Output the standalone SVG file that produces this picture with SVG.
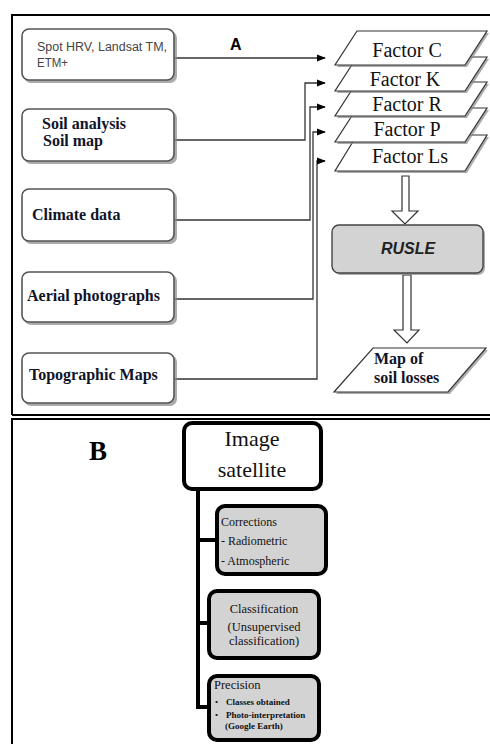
<svg xmlns="http://www.w3.org/2000/svg" width="490" height="744" viewBox="0 0 490 744">
<defs>
<style>
.frame{fill:none;stroke:#000;stroke-width:2}
.inbox{fill:#fff;stroke:#555;stroke-width:1.6}
.shadow{fill:#888;opacity:0.7}
.bt{font-family:"Liberation Serif",serif;font-weight:bold;font-size:16px;fill:#10142a}
.ft{font-family:"Liberation Serif",serif;font-size:20px;fill:#111}
.para{fill:#fff;stroke:#333;stroke-width:1.2}
.conn{fill:none;stroke:#333;stroke-width:1.3}
.hollow{fill:#fff;stroke:#333;stroke-width:1.2}
.bbox{stroke:#000;stroke-width:4}
.bconn{fill:none;stroke:#000;stroke-width:4}
.st{font-family:"Liberation Serif",serif;fill:#111}
</style>
<marker id="ah" viewBox="0 0 10 10" refX="9" refY="5" markerWidth="9" markerHeight="9" markerUnits="userSpaceOnUse" orient="auto"><path d="M0,1 L10,5 L0,9 Z" fill="#000"/></marker>
</defs>

<!-- frames -->
<g id="frames">
<path class="frame" d="M12,415 L12,15 L490,15"/>
<line class="frame" x1="12" y1="415" x2="490" y2="415"/>
<path class="frame" d="M12,744 L12,419 L490,419"/>
</g>

<text x="230" y="50" font-family="Liberation Sans,sans-serif" font-weight="bold" font-size="16" fill="#000">A</text>
<text x="98" y="460" text-anchor="middle" font-family="Liberation Serif,serif" font-weight="bold" font-size="27" fill="#000">B</text>

<!-- connectors -->
<g id="connectors">
<line class="conn" x1="175" y1="58" x2="325" y2="58" marker-end="url(#ah)"/>
<path class="conn" d="M175,140 L305,140 L305,83 L325,83" marker-end="url(#ah)"/>
<path class="conn" d="M175,220 L310,220 L310,107 L325,107" marker-end="url(#ah)"/>
<path class="conn" d="M175,299 L313,299 L313,132 L325,132" marker-end="url(#ah)"/>
<path class="conn" d="M175,379 L317,379 L317,161 L325,161" marker-end="url(#ah)"/>
<polygon class="hollow" points="402,176 409,176 409,211 418,211 405,224 392,211 402,211"/>
<polygon class="hollow" points="403,275 411,275 411,330 419,330 407,343 394,330 403,330"/>
<path class="bconn" d="M198,490 L198,707 L210,707"/>
<line class="bconn" x1="198" y1="540" x2="218" y2="540"/>
<line class="bconn" x1="198" y1="623" x2="210" y2="623"/>
</g>

<!-- input boxes -->
<g id="n-spot">
<rect class="shadow" x="24" y="31" width="153" height="52" rx="7"/>
<rect class="inbox" x="22" y="29" width="152" height="51" rx="7"/>
<text x="37" y="51" font-family="Liberation Sans,sans-serif" font-size="12.5" fill="#444" textLength="130" lengthAdjust="spacingAndGlyphs">Spot HRV, Landsat TM,</text>
<text x="37" y="67" font-family="Liberation Sans,sans-serif" font-size="12.5" fill="#444" textLength="31" lengthAdjust="spacingAndGlyphs">ETM+</text>
</g>
<g id="n-soil">
<rect class="shadow" x="24" y="111" width="153" height="53" rx="7"/>
<rect class="inbox" x="22" y="109" width="152" height="52" rx="7"/>
<text class="bt" x="42" y="129" font-size="15.5">Soil analysis</text>
<text class="bt" x="43" y="146" font-size="15.5">Soil map</text>
</g>
<g id="n-climate">
<rect class="shadow" x="24" y="191" width="153" height="53" rx="7"/>
<rect class="inbox" x="22" y="189" width="152" height="52" rx="7"/>
<text class="bt" x="32" y="220">Climate data</text>
</g>
<g id="n-aerial">
<rect class="shadow" x="24" y="274" width="153" height="51" rx="7"/>
<rect class="inbox" x="22" y="272" width="152" height="50" rx="7"/>
<text class="bt" x="27" y="301">Aerial photographs</text>
</g>
<g id="n-topo">
<rect class="shadow" x="24" y="355" width="153" height="51" rx="7"/>
<rect class="inbox" x="22" y="353" width="152" height="50" rx="7"/>
<text class="bt" x="29" y="380">Topographic Maps</text>
</g>

<!-- factors (drawn bottom to top) -->
<g id="n-factor-ls">
<polygon class="shadow" points="359,137 489,137 467,173 337,173"/>
<polygon class="para" points="357,135 487,135 465,171 335,171"/>
<text class="ft" x="410" y="163" text-anchor="middle">Factor Ls</text>
</g>
<g id="n-factor-p">
<polygon class="shadow" points="359,110 489,110 467,144 337,144"/>
<polygon class="para" points="357,108 487,108 465,142 335,142"/>
<text class="ft" x="407" y="136" text-anchor="middle">Factor P</text>
</g>
<g id="n-factor-r">
<polygon class="shadow" points="359,84 489,84 467,118 337,118"/>
<polygon class="para" points="357,82 487,82 465,116 335,116"/>
<text class="ft" x="407" y="111" text-anchor="middle">Factor R</text>
</g>
<g id="n-factor-k">
<polygon class="shadow" points="359,59 489,59 467,93 337,93"/>
<polygon class="para" points="357,57 487,57 465,91 335,91"/>
<text class="ft" x="405" y="86" text-anchor="middle">Factor K</text>
</g>
<g id="n-factor-c">
<polygon class="shadow" points="359,33 489,33 467,67 337,67"/>
<polygon class="para" points="357,31 487,31 465,65 335,65"/>
<text class="ft" x="407" y="57" text-anchor="middle">Factor C</text>
</g>

<g id="n-rusle">
<rect class="shadow" x="334" y="227" width="151" height="48" rx="7"/>
<rect x="332" y="225" width="151" height="48" rx="7" fill="#d3d3d3" stroke="#444" stroke-width="1.4"/>
<text x="408" y="254" text-anchor="middle" font-family="Liberation Sans,sans-serif" font-weight="bold" font-style="italic" font-size="16" fill="#222">RUSLE</text>
</g>

<g id="n-map">
<polygon class="shadow" points="375,350 488,350 450,394 336,394"/>
<polygon class="para" points="373,348 486,348 448,392 334,392"/>
<text class="bt" x="374" y="364" font-size="15">Map of</text>
<text class="bt" x="374" y="383" font-size="15">soil losses</text>
</g>

<!-- panel B -->
<g id="n-image">
<rect class="bbox" x="184" y="423" width="137" height="66" rx="8" fill="#fff"/>
<text class="st" x="252" y="446" text-anchor="middle" font-size="22">Image</text>
<text class="st" x="252" y="477" text-anchor="middle" font-size="22">satellite</text>
</g>
<g id="n-corrections">
<rect class="bbox" x="217" y="506" width="109" height="68" rx="8" fill="#d3d3d3"/>
<text class="st" x="221" y="526" font-size="12">Corrections</text>
<text class="st" x="221" y="545" font-size="12">- Radiometric</text>
<text class="st" x="221" y="565" font-size="12">- Atmospheric</text>
</g>
<g id="n-classification">
<rect class="bbox" x="209" y="591" width="110" height="67" rx="8" fill="#d3d3d3"/>
<text class="st" x="264" y="613" text-anchor="middle" font-size="12.5">Classification</text>
<text class="st" x="264" y="631" text-anchor="middle" font-size="12.5">(Unsupervised</text>
<text class="st" x="264" y="645" text-anchor="middle" font-size="12.5">classification)</text>
</g>
<g id="n-precision">
<rect class="bbox" x="209" y="676" width="110" height="64" rx="8" fill="#d3d3d3"/>
<text class="st" x="214" y="689" font-size="12.5">Precision</text>
<text class="st" x="215" y="705" font-size="9">•</text>
<text class="st" x="226" y="705" font-size="9" font-weight="bold">Classes obtained</text>
<text class="st" x="215" y="718" font-size="9">•</text>
<text class="st" x="226" y="718" font-size="9" font-weight="bold">Photo-interpretation</text>
<text class="st" x="225" y="729" font-size="9" font-weight="bold">(Google Earth)</text>
</g>
</svg>
